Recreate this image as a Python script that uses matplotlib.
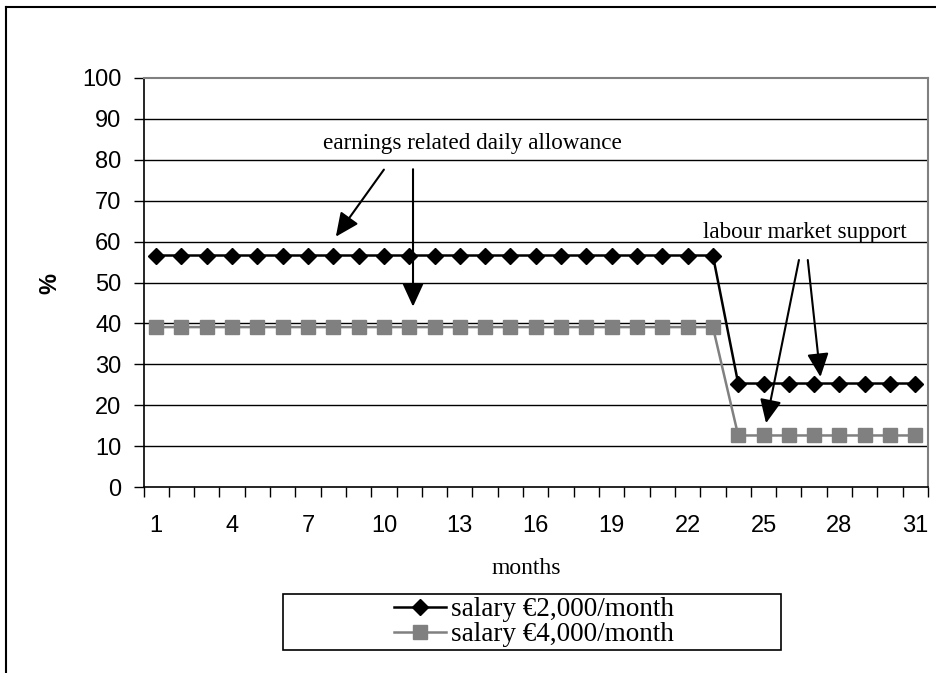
import numpy as np
import matplotlib.pyplot as plt
from matplotlib.lines import Line2D
from matplotlib.patches import Rectangle

# données
months = np.arange(1, 32)
salary_2000 = [56.6] * 23 + [25.3] * 8
salary_4000 = [39.1] * 23 + [12.6] * 8
labels = ["salary €2,000/month", "salary €4,000/month"]

sans = ["Liberation Sans", "DejaVu Sans"]
serif = ["Liberation Serif", "DejaVu Serif"]

fig = plt.figure(figsize=(9.36, 6.73), dpi=100)
ax = fig.add_axes([143.5 / 936, 1 - 487 / 673, (928 - 143.5) / 936, (487 - 78) / 673])

ax.plot(months, salary_2000, color="black", lw=1.8, marker="D", markersize=8,
        label=labels[0], zorder=4)
ax.plot(months, salary_4000, color="#808080", lw=1.8, marker="s", markersize=10,
        label=labels[1], zorder=3)

ax.set_xlim(0.5, 31.5)
ax.set_ylim(0, 100)
ax.set_yticks(np.arange(0, 101, 10))
ax.set_xticks(np.arange(1, 32, 3))
ax.set_xticks(np.arange(0.5, 31.6, 1), minor=True)
ax.tick_params(axis="x", which="major", length=0, pad=20)
ax.tick_params(axis="x", which="minor", length=7, width=1, direction="out")
ax.tick_params(axis="y", length=7, width=1, direction="out", pad=9)
for t in ax.get_xticklabels() + ax.get_yticklabels():
    t.set_family(sans)
    t.set_fontsize(17)

for v in range(10, 100, 10):
    ax.axhline(v, color="black", lw=1, zorder=1)
ax.spines["top"].set_color("#808080")
ax.spines["right"].set_color("#808080")
ax.spines["top"].set_linewidth(1.5)
ax.spines["right"].set_linewidth(1.5)
ax.spines["left"].set_linewidth(1.2)
ax.spines["bottom"].set_linewidth(1.2)

# annotations
arrow = dict(arrowstyle="-|>,head_length=1.2,head_width=0.55", color="black",
             lw=1.5, mutation_scale=12, shrinkA=0, shrinkB=0)
ax.text(13.5, 84.1, "earnings related daily allowance", family=serif, fontsize=16.7,
        ha="center", va="center")
ax.annotate("", xy=(8.1, 61.2), xytext=(10.0, 77.6), arrowprops=arrow)
ax.annotate("", xy=(11.15, 44.1), xytext=(11.15, 77.7), arrowprops=arrow)
ax.text(26.65, 62.3, "labour market support", family=serif, fontsize=16.7,
        ha="center", va="center")
ax.annotate("", xy=(25.1, 15.6), xytext=(26.4, 55.5), arrowprops=arrow)
ax.annotate("", xy=(27.25, 26.9), xytext=(26.75, 55.5), arrowprops=arrow)

fig.text(526 / 936, 1 - 568 / 673, "months", family=serif, fontsize=17,
         ha="center", va="center")
fig.text(50 / 936, 1 - 283 / 673, "%", family=sans, fontsize=17, fontweight="bold",
         rotation=90, ha="center", va="center")

# cadre extérieur
fig.add_artist(Line2D([6 / 936, 6 / 936], [0, 1 - 7 / 673], color="black", lw=1.5))
fig.add_artist(Line2D([6 / 936, 1], [1 - 7 / 673, 1 - 7 / 673], color="black", lw=1.5))

# légende
fig.add_artist(Rectangle((283 / 936, 1 - 650 / 673), (781 - 283) / 936, 56 / 673,
                         transform=fig.transFigure, fill=False, ec="black", lw=1.2))
fig.legend(loc="center", bbox_to_anchor=(534 / 936, 1 - 622 / 673), frameon=False,
           prop={"family": serif, "size": 19.5}, labelspacing=0.0, handlelength=1.9,
           handletextpad=0.2, borderpad=0)

fig.savefig("out.png", dpi=100)
